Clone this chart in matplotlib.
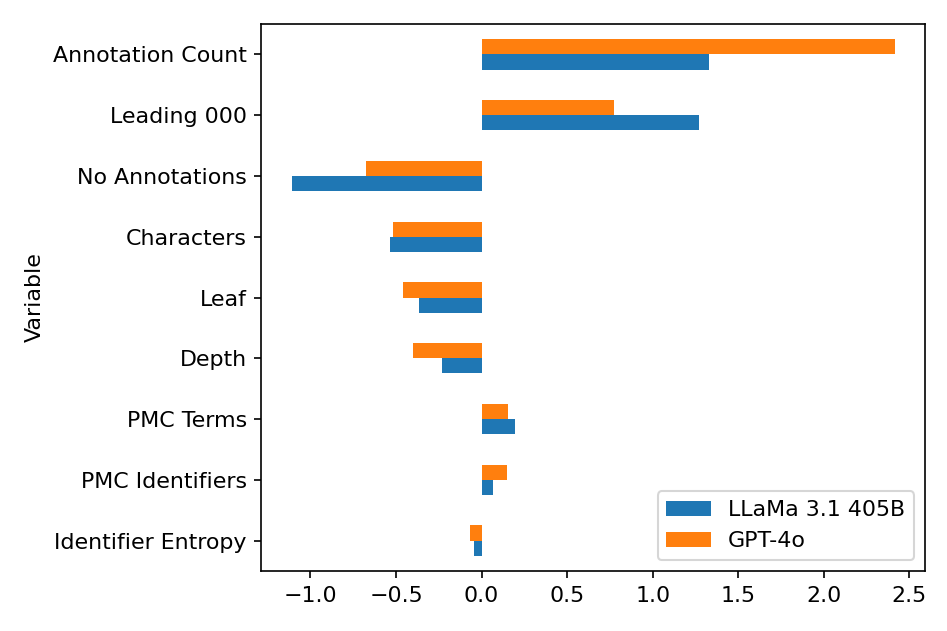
import matplotlib
matplotlib.use("Agg")
import matplotlib.pyplot as plt
import numpy as np
import pandas as pd

plt.rcParams["font.size"] = 10.6

# bottom-to-top order, like pandas barh
variables = ["Identifier Entropy", "PMC Identifiers", "PMC Terms", "Depth", "Leaf",
             "Characters", "No Annotations", "Leading 000", "Annotation Count"]
llama = [-0.045, 0.068, 0.193, -0.233, -0.363, -0.534, -1.110, 1.273, 1.331]
gpt4o = [-0.068, 0.148, 0.153, -0.398, -0.456, -0.516, -0.674, 0.774, 2.416]

df = pd.DataFrame({"LLaMa 3.1 405B": llama, "GPT-4o": gpt4o}, index=variables)
df.index.name = "Variable"

fig, ax = plt.subplots(figsize=(947 / 150, 631 / 150), dpi=150)
df.plot.barh(ax=ax)
ax.legend(loc="lower right")
fig.subplots_adjust(left=0.276, right=0.977, top=0.962, bottom=0.095)
fig.savefig("out.png", dpi=150)
